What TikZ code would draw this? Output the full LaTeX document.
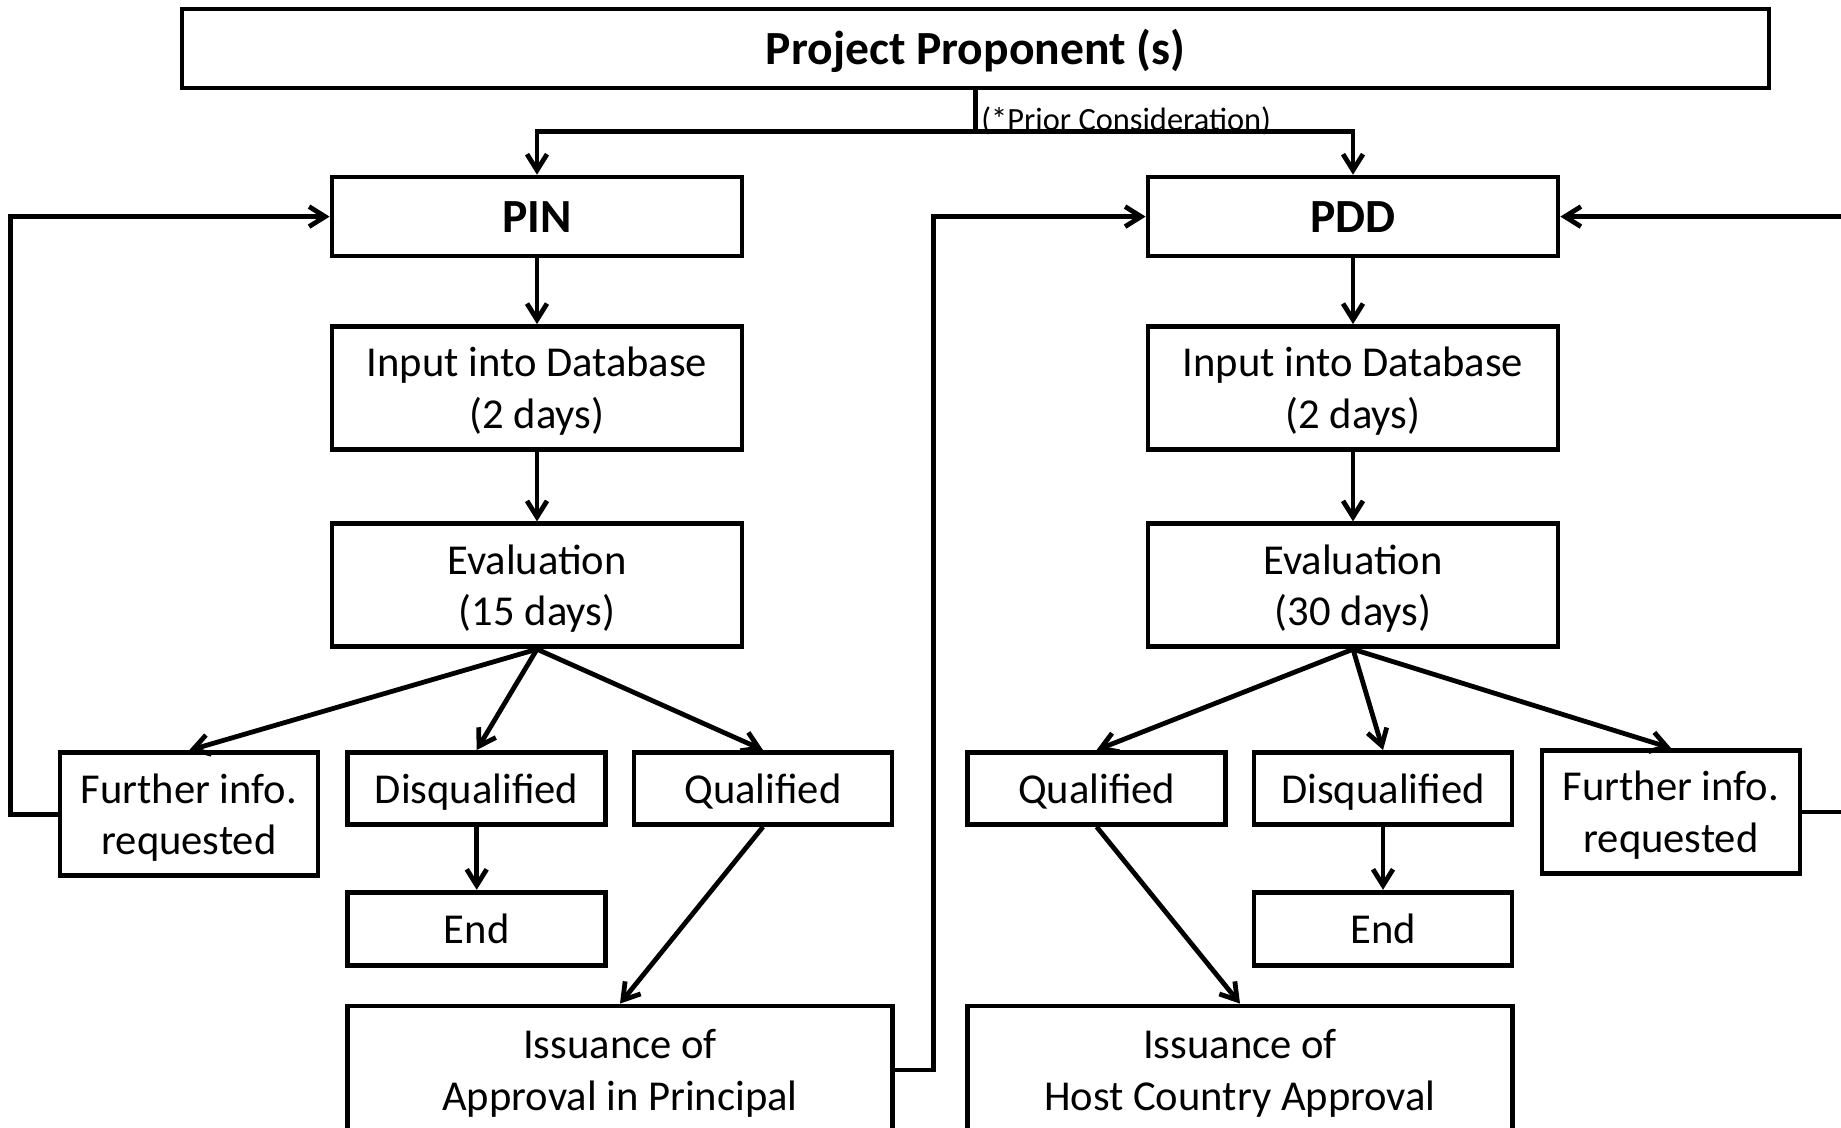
\documentclass[tikz,border=0pt]{standalone}
\usepackage{fontspec}
\setmainfont{Carlito}
\usetikzlibrary{arrows.meta}
\newcommand\myhs{\rule{0pt}{20.3pt}}
\newcommand\myds{\rule[-5.7pt]{0pt}{0pt}}
\begin{document}
\begin{tikzpicture}[x=0.5pt,y=-0.5pt,
  frame/.style={draw,line width=2.4pt,align=center,inner sep=0pt},
  box/.style={frame,font=\fontsize{21.3}{25.9}\selectfont},
  tbox/.style={frame,font=\bfseries\fontsize{23.8}{29}\selectfont,
    text height=22.7pt,text depth=6.4pt},
  big/.style={box,minimum width=205pt,minimum height=61.5pt},
  tbig/.style={tbox,minimum width=205pt,minimum height=39.5pt},
  small/.style={box,minimum width=129pt},
  one/.style={text height=20.3pt,text depth=5.7pt},
  ln/.style={line width=2.4pt},
  arr/.style={ln,-{Straight Barb[length=8pt,width=10pt]}}]
\useasboundingbox (0,0) rectangle (1841,1128);
\fill[white] (0,0) rectangle (1841,1128);
\clip (0,0) rectangle (1841,1128);
% nodes
\node[tbox,minimum width=793.5pt,minimum height=39.5pt] (pp) at (975.5,48.5) {Project Proponent (s)};
\node[tbig] (pin) at (537,216.6) {PIN};
\node[tbig] (pdd) at (1353,216.6) {PDD};
\node[big] (in1) at (537,388) {\myhs Input into Database\\(2 days)\myds};
\node[big] (in2) at (1353,388) {\myhs Input into Database\\(2 days)\myds};
\node[big] (ev1) at (537,585.3) {\myhs Evaluation\\(15 days)\myds};
\node[big] (ev2) at (1353,585.3) {\myhs Evaluation\\(30 days)\myds};
\node[small,minimum height=61.5pt] (fi1) at (189,814.3) {\myhs Further info.\\requested\myds};
\node[small,one,minimum height=36pt] (dq1) at (476.7,788.4) {Disqualified};
\node[small,one,minimum height=36pt] (q1) at (763,788.4) {Qualified};
\node[small,one,minimum height=36pt] (q2) at (1096.6,788.4) {Qualified};
\node[small,one,minimum height=36pt] (dq2) at (1383,788.4) {Disqualified};
\node[small,minimum height=61.5pt] (fi2) at (1671,812) {\myhs Further info.\\requested\myds};
\node[small,one,minimum height=36.5pt] (end1) at (476.7,928.7) {End};
\node[small,one,minimum height=36.5pt] (end2) at (1383,928.7) {End};
\node[box,minimum width=272.5pt,minimum height=64pt] (is1) at (620,1070) {\myhs Issuance of\\Approval in Principal\myds};
\node[box,minimum width=272.5pt,minimum height=64pt] (is2) at (1240,1070) {\myhs Issuance of\\Host Country Approval\myds};
% top split
\coordinate (split) at (975.5,131.5);
\draw[ln] (pp.south) -- (split);
\draw[arr] (split) -| (pin.north);
\draw[arr] (split) -| (pdd.north);
\node[anchor=south west,inner sep=0pt,font=\fontsize{16.2}{19}\selectfont] (pc) at (981,135.5) {(*Prior Consideration)};
% vertical chains
\draw[arr] (pin) -- (in1);
\draw[arr] (in1) -- (ev1);
\draw[arr] (pdd) -- (in2);
\draw[arr] (in2) -- (ev2);
% branches
\draw[arr] (ev1.south) -- (fi1.north);
\draw[arr] (ev1.south) -- (dq1.north);
\draw[arr] (ev1.south) -- (q1.north);
\draw[arr] (ev2.south) -- (q2.north);
\draw[arr] (ev2.south) -- (dq2.north);
\draw[arr] (ev2.south) -- (fi2.north);
\draw[arr] (dq1) -- (end1);
\draw[arr] (dq2) -- (end2);
\draw[arr] (q1.south) -- (is1.north);
\draw[arr] (q2.south) -- (is2.north);
% feedback loops
\draw[arr] (fi1.west) -- ++(-47,0) |- (pin.west);
\draw[arr] (is1.east) -- ++(38.5,0) |- (pdd.west);
\draw[arr] (fi2.east) -- ++(60,0) |- (pdd.east);
\end{tikzpicture}
\end{document}
